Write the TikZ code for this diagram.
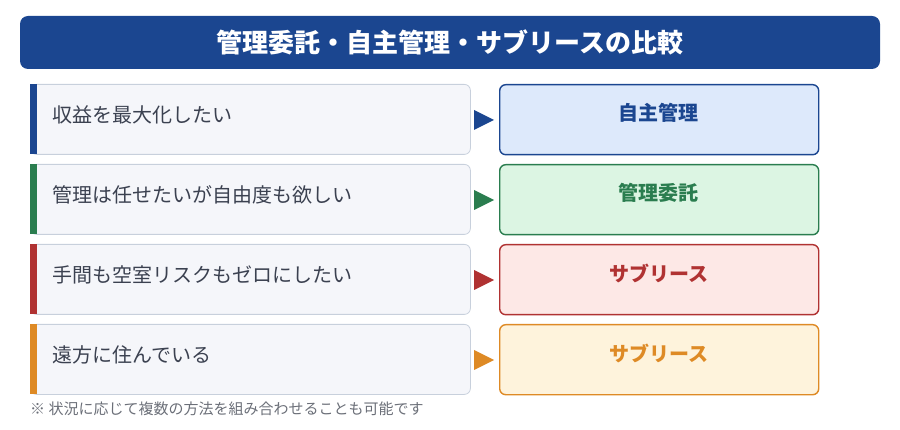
\documentclass[tikz,border=0pt]{standalone}
\usepackage{fontspec}
\setmainfont{Noto Sans CJK JP}
\usepackage{tikz}

\definecolor{TitleBlue}{HTML}{1B4690}
\definecolor{BlueLine}{HTML}{1B4690}
\definecolor{GreenLine}{HTML}{2A7D4F}
\definecolor{RedLine}{HTML}{B03232}
\definecolor{OrangeLine}{HTML}{DE8A25}
\definecolor{BlueFill}{HTML}{DDE9FB}
\definecolor{GreenFill}{HTML}{DCF5E3}
\definecolor{RedFill}{HTML}{FDE8E6}
\definecolor{OrangeFill}{HTML}{FEF3DC}
\definecolor{CaseFill}{HTML}{F5F6FA}
\definecolor{CaseLine}{HTML}{C8D0DC}
\definecolor{CaseText}{HTML}{3B4150}
\definecolor{NoteText}{HTML}{6B6F78}

\begin{document}
\begin{tikzpicture}[x=1pt,y=-1pt]

\tikzset{CaseBox/.style = {draw = CaseLine, fill = CaseFill, line width = .8pt,
                           rounded corners = 6pt, minimum width = 440pt,
                           minimum height = 70pt, inner sep = 0pt, anchor = north west}}
\tikzset{CaseText/.style = {text = CaseText, font = \fontsize{20}{24}\selectfont,
                            anchor = west, inner sep = 0pt}}
\tikzset{ChoiceBox/.style = {line width = 1.4pt, rounded corners = 6pt,
                             minimum width = 319pt, minimum height = 70pt,
                             inner sep = 0pt, anchor = north west}}
\tikzset{ChoiceText/.style = {font = \fontsize{20}{24}\selectfont\bfseries, inner sep = 0pt}}

\useasboundingbox (0,0) rectangle (900,430);

% title
\node[fill = TitleBlue, rounded corners = 8pt, minimum width = 860pt,
      minimum height = 53pt, inner sep = 0pt] (title) at (450,42.5) {};
\node[text = white, font = \fontsize{26}{30}\selectfont\bfseries] (titletext) at (450,42)
     {管理委託・自主管理・サブリースの比較};

% row 1
\node[CaseBox] (case1) at (30,84) {};
\fill[BlueLine] (30,84) rectangle (37,154);
\node[CaseText] (case1text) at (52,115) {収益を最大化したい};
\fill[BlueLine] (474,110) -- (494,120) -- (474,130) -- cycle;
\node[ChoiceBox, draw = BlueLine, fill = BlueFill] (choice1) at (499,84) {};
\node[ChoiceText, text = BlueLine] (choice1text) at (658.5,113) {自主管理};

% row 2
\node[CaseBox] (case2) at (30,164) {};
\fill[GreenLine] (30,164) rectangle (37,234);
\node[CaseText] (case2text) at (52,195) {管理は任せたいが自由度も欲しい};
\fill[GreenLine] (474,190) -- (494,200) -- (474,210) -- cycle;
\node[ChoiceBox, draw = GreenLine, fill = GreenFill] (choice2) at (499,164) {};
\node[ChoiceText, text = GreenLine] (choice2text) at (658.5,193) {管理委託};

% row 3
\node[CaseBox] (case3) at (30,244) {};
\fill[RedLine] (30,244) rectangle (37,314);
\node[CaseText] (case3text) at (52,275) {手間も空室リスクもゼロにしたい};
\fill[RedLine] (474,270) -- (494,280) -- (474,290) -- cycle;
\node[ChoiceBox, draw = RedLine, fill = RedFill] (choice3) at (499,244) {};
\node[ChoiceText, text = RedLine] (choice3text) at (658.5,273) {サブリース};

% row 4
\node[CaseBox] (case4) at (30,324) {};
\fill[OrangeLine] (30,324) rectangle (37,394);
\node[CaseText] (case4text) at (52,355) {遠方に住んでいる};
\fill[OrangeLine] (474,350) -- (494,360) -- (474,370) -- cycle;
\node[ChoiceBox, draw = OrangeLine, fill = OrangeFill] (choice4) at (499,324) {};
\node[ChoiceText, text = OrangeLine] (choice4text) at (658.5,353) {サブリース};

% note
\node[text = NoteText, font = \fontsize{15}{18}\selectfont, anchor = west,
      inner sep = 0pt] (note) at (30,409) {※ 状況に応じて複数の方法を組み合わせることも可能です};

\end{tikzpicture}
\end{document}
